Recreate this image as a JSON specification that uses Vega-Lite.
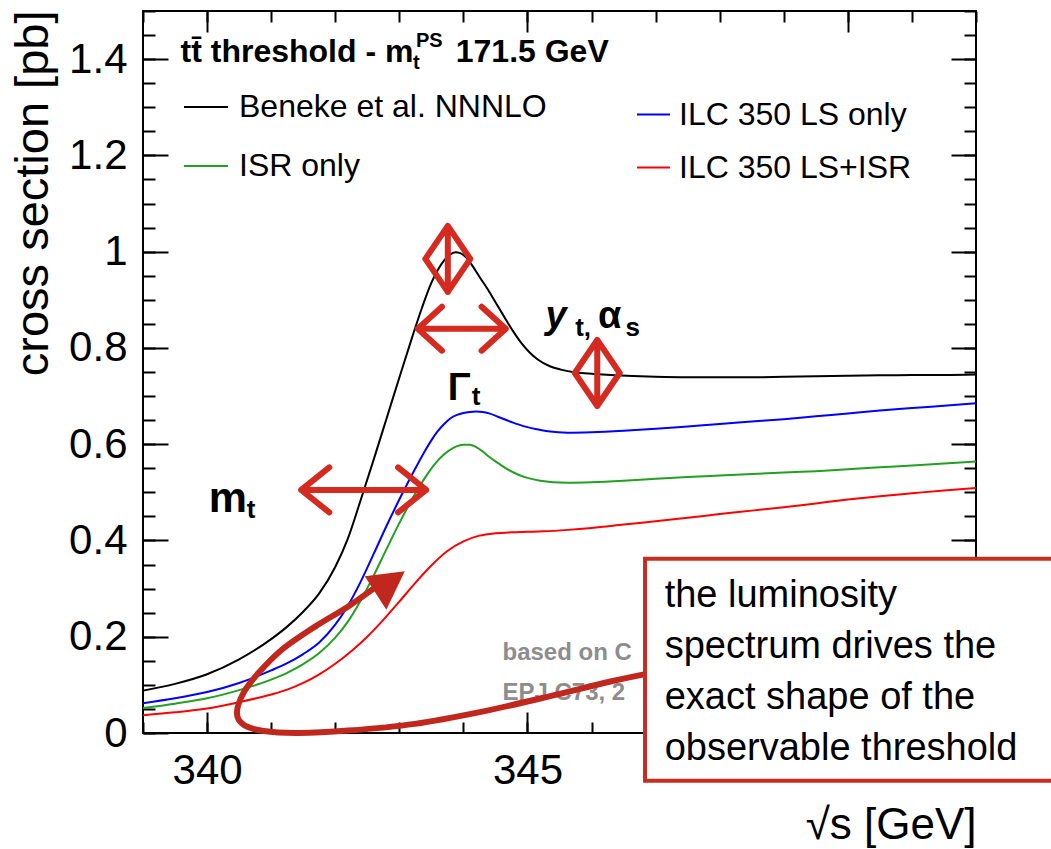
{
  "$schema": "https://vega.github.io/schema/vega-lite/v6.json",
  "width": 833,
  "height": 722,
  "autosize": {"type": "none"},
  "padding": {"left": 143, "top": 11, "right": 75, "bottom": 116},
  "background": "white",
  "config": {
    "font": "Liberation Sans",
    "view": {"stroke": "black", "strokeWidth": 2},
    "axis": {"grid": false, "domain": false, "tickColor": "black", "tickWidth": 2, "labelColor": "black", "titleColor": "black", "labelFlush": false}
  },
  "datasets": {
    "curves": [
      {"series": "Beneke et al. NNNLO", "sqrt_s": 339.0, "sigma": 0.088},
      {"series": "Beneke et al. NNNLO", "sqrt_s": 339.5, "sigma": 0.102},
      {"series": "Beneke et al. NNNLO", "sqrt_s": 340.0, "sigma": 0.122},
      {"series": "Beneke et al. NNNLO", "sqrt_s": 340.5, "sigma": 0.153},
      {"series": "Beneke et al. NNNLO", "sqrt_s": 341.0, "sigma": 0.195},
      {"series": "Beneke et al. NNNLO", "sqrt_s": 341.25, "sigma": 0.221},
      {"series": "Beneke et al. NNNLO", "sqrt_s": 341.5, "sigma": 0.252},
      {"series": "Beneke et al. NNNLO", "sqrt_s": 341.75, "sigma": 0.29},
      {"series": "Beneke et al. NNNLO", "sqrt_s": 342.0, "sigma": 0.345},
      {"series": "Beneke et al. NNNLO", "sqrt_s": 342.2, "sigma": 0.405},
      {"series": "Beneke et al. NNNLO", "sqrt_s": 342.4, "sigma": 0.485},
      {"series": "Beneke et al. NNNLO", "sqrt_s": 342.6, "sigma": 0.568},
      {"series": "Beneke et al. NNNLO", "sqrt_s": 342.8, "sigma": 0.653},
      {"series": "Beneke et al. NNNLO", "sqrt_s": 343.0, "sigma": 0.738},
      {"series": "Beneke et al. NNNLO", "sqrt_s": 343.2, "sigma": 0.822},
      {"series": "Beneke et al. NNNLO", "sqrt_s": 343.35, "sigma": 0.882},
      {"series": "Beneke et al. NNNLO", "sqrt_s": 343.5, "sigma": 0.935},
      {"series": "Beneke et al. NNNLO", "sqrt_s": 343.6, "sigma": 0.962},
      {"series": "Beneke et al. NNNLO", "sqrt_s": 343.7, "sigma": 0.982},
      {"series": "Beneke et al. NNNLO", "sqrt_s": 343.8, "sigma": 0.995},
      {"series": "Beneke et al. NNNLO", "sqrt_s": 343.88, "sigma": 0.999},
      {"series": "Beneke et al. NNNLO", "sqrt_s": 343.95, "sigma": 0.997},
      {"series": "Beneke et al. NNNLO", "sqrt_s": 344.05, "sigma": 0.987},
      {"series": "Beneke et al. NNNLO", "sqrt_s": 344.15, "sigma": 0.969},
      {"series": "Beneke et al. NNNLO", "sqrt_s": 344.25, "sigma": 0.948},
      {"series": "Beneke et al. NNNLO", "sqrt_s": 344.38, "sigma": 0.922},
      {"series": "Beneke et al. NNNLO", "sqrt_s": 344.51, "sigma": 0.893},
      {"series": "Beneke et al. NNNLO", "sqrt_s": 344.64, "sigma": 0.864},
      {"series": "Beneke et al. NNNLO", "sqrt_s": 344.77, "sigma": 0.836},
      {"series": "Beneke et al. NNNLO", "sqrt_s": 344.9, "sigma": 0.811},
      {"series": "Beneke et al. NNNLO", "sqrt_s": 345.03, "sigma": 0.791},
      {"series": "Beneke et al. NNNLO", "sqrt_s": 345.16, "sigma": 0.776},
      {"series": "Beneke et al. NNNLO", "sqrt_s": 345.35, "sigma": 0.762},
      {"series": "Beneke et al. NNNLO", "sqrt_s": 345.52, "sigma": 0.755},
      {"series": "Beneke et al. NNNLO", "sqrt_s": 345.75, "sigma": 0.749},
      {"series": "Beneke et al. NNNLO", "sqrt_s": 346.04, "sigma": 0.746},
      {"series": "Beneke et al. NNNLO", "sqrt_s": 346.55, "sigma": 0.742},
      {"series": "Beneke et al. NNNLO", "sqrt_s": 347.0, "sigma": 0.74},
      {"series": "Beneke et al. NNNLO", "sqrt_s": 347.5, "sigma": 0.739},
      {"series": "Beneke et al. NNNLO", "sqrt_s": 348.0, "sigma": 0.739},
      {"series": "Beneke et al. NNNLO", "sqrt_s": 348.5, "sigma": 0.739},
      {"series": "Beneke et al. NNNLO", "sqrt_s": 349.0, "sigma": 0.74},
      {"series": "Beneke et al. NNNLO", "sqrt_s": 349.5, "sigma": 0.741},
      {"series": "Beneke et al. NNNLO", "sqrt_s": 350.0, "sigma": 0.742},
      {"series": "Beneke et al. NNNLO", "sqrt_s": 350.5, "sigma": 0.743},
      {"series": "Beneke et al. NNNLO", "sqrt_s": 351.0, "sigma": 0.744},
      {"series": "Beneke et al. NNNLO", "sqrt_s": 351.5, "sigma": 0.744},
      {"series": "Beneke et al. NNNLO", "sqrt_s": 352.0, "sigma": 0.745},
      {"series": "ILC 350 LS only", "sqrt_s": 339.0, "sigma": 0.062},
      {"series": "ILC 350 LS only", "sqrt_s": 339.5, "sigma": 0.072},
      {"series": "ILC 350 LS only", "sqrt_s": 340.0, "sigma": 0.085},
      {"series": "ILC 350 LS only", "sqrt_s": 340.5, "sigma": 0.104},
      {"series": "ILC 350 LS only", "sqrt_s": 341.0, "sigma": 0.13},
      {"series": "ILC 350 LS only", "sqrt_s": 341.25, "sigma": 0.145},
      {"series": "ILC 350 LS only", "sqrt_s": 341.5, "sigma": 0.164},
      {"series": "ILC 350 LS only", "sqrt_s": 341.75, "sigma": 0.188},
      {"series": "ILC 350 LS only", "sqrt_s": 342.0, "sigma": 0.225},
      {"series": "ILC 350 LS only", "sqrt_s": 342.2, "sigma": 0.265},
      {"series": "ILC 350 LS only", "sqrt_s": 342.4, "sigma": 0.315},
      {"series": "ILC 350 LS only", "sqrt_s": 342.6, "sigma": 0.372},
      {"series": "ILC 350 LS only", "sqrt_s": 342.8, "sigma": 0.43},
      {"series": "ILC 350 LS only", "sqrt_s": 343.0, "sigma": 0.485},
      {"series": "ILC 350 LS only", "sqrt_s": 343.2, "sigma": 0.537},
      {"series": "ILC 350 LS only", "sqrt_s": 343.4, "sigma": 0.586},
      {"series": "ILC 350 LS only", "sqrt_s": 343.5, "sigma": 0.608},
      {"series": "ILC 350 LS only", "sqrt_s": 343.6, "sigma": 0.627},
      {"series": "ILC 350 LS only", "sqrt_s": 343.7, "sigma": 0.642},
      {"series": "ILC 350 LS only", "sqrt_s": 343.8, "sigma": 0.654},
      {"series": "ILC 350 LS only", "sqrt_s": 343.9, "sigma": 0.661},
      {"series": "ILC 350 LS only", "sqrt_s": 344.0, "sigma": 0.665},
      {"series": "ILC 350 LS only", "sqrt_s": 344.1, "sigma": 0.667},
      {"series": "ILC 350 LS only", "sqrt_s": 344.2, "sigma": 0.668},
      {"series": "ILC 350 LS only", "sqrt_s": 344.3, "sigma": 0.667},
      {"series": "ILC 350 LS only", "sqrt_s": 344.4, "sigma": 0.664},
      {"series": "ILC 350 LS only", "sqrt_s": 344.54, "sigma": 0.657},
      {"series": "ILC 350 LS only", "sqrt_s": 344.75, "sigma": 0.646},
      {"series": "ILC 350 LS only", "sqrt_s": 344.95, "sigma": 0.637},
      {"series": "ILC 350 LS only", "sqrt_s": 345.15, "sigma": 0.631},
      {"series": "ILC 350 LS only", "sqrt_s": 345.32, "sigma": 0.627},
      {"series": "ILC 350 LS only", "sqrt_s": 345.63, "sigma": 0.624},
      {"series": "ILC 350 LS only", "sqrt_s": 346.0, "sigma": 0.625},
      {"series": "ILC 350 LS only", "sqrt_s": 346.5, "sigma": 0.628},
      {"series": "ILC 350 LS only", "sqrt_s": 347.0, "sigma": 0.632},
      {"series": "ILC 350 LS only", "sqrt_s": 347.5, "sigma": 0.637},
      {"series": "ILC 350 LS only", "sqrt_s": 348.0, "sigma": 0.642},
      {"series": "ILC 350 LS only", "sqrt_s": 348.5, "sigma": 0.647},
      {"series": "ILC 350 LS only", "sqrt_s": 349.0, "sigma": 0.652},
      {"series": "ILC 350 LS only", "sqrt_s": 349.5, "sigma": 0.658},
      {"series": "ILC 350 LS only", "sqrt_s": 350.0, "sigma": 0.664},
      {"series": "ILC 350 LS only", "sqrt_s": 350.5, "sigma": 0.67},
      {"series": "ILC 350 LS only", "sqrt_s": 351.0, "sigma": 0.675},
      {"series": "ILC 350 LS only", "sqrt_s": 351.5, "sigma": 0.68},
      {"series": "ILC 350 LS only", "sqrt_s": 352.0, "sigma": 0.685},
      {"series": "ISR only", "sqrt_s": 339.0, "sigma": 0.052},
      {"series": "ISR only", "sqrt_s": 339.5, "sigma": 0.061},
      {"series": "ISR only", "sqrt_s": 340.0, "sigma": 0.072},
      {"series": "ISR only", "sqrt_s": 340.5, "sigma": 0.089},
      {"series": "ISR only", "sqrt_s": 341.0, "sigma": 0.111},
      {"series": "ISR only", "sqrt_s": 341.25, "sigma": 0.125},
      {"series": "ISR only", "sqrt_s": 341.5, "sigma": 0.143},
      {"series": "ISR only", "sqrt_s": 341.75, "sigma": 0.166},
      {"series": "ISR only", "sqrt_s": 342.0, "sigma": 0.198},
      {"series": "ISR only", "sqrt_s": 342.2, "sigma": 0.232},
      {"series": "ISR only", "sqrt_s": 342.4, "sigma": 0.276},
      {"series": "ISR only", "sqrt_s": 342.6, "sigma": 0.327},
      {"series": "ISR only", "sqrt_s": 342.8, "sigma": 0.382},
      {"series": "ISR only", "sqrt_s": 343.0, "sigma": 0.436},
      {"series": "ISR only", "sqrt_s": 343.2, "sigma": 0.486},
      {"series": "ISR only", "sqrt_s": 343.4, "sigma": 0.53},
      {"series": "ISR only", "sqrt_s": 343.55, "sigma": 0.558},
      {"series": "ISR only", "sqrt_s": 343.7, "sigma": 0.579},
      {"series": "ISR only", "sqrt_s": 343.85, "sigma": 0.593},
      {"series": "ISR only", "sqrt_s": 344.0, "sigma": 0.599},
      {"series": "ISR only", "sqrt_s": 344.1, "sigma": 0.599},
      {"series": "ISR only", "sqrt_s": 344.2, "sigma": 0.594},
      {"series": "ISR only", "sqrt_s": 344.3, "sigma": 0.585},
      {"series": "ISR only", "sqrt_s": 344.4, "sigma": 0.574},
      {"series": "ISR only", "sqrt_s": 344.55, "sigma": 0.56},
      {"series": "ISR only", "sqrt_s": 344.7, "sigma": 0.547},
      {"series": "ISR only", "sqrt_s": 344.85, "sigma": 0.537},
      {"series": "ISR only", "sqrt_s": 345.0, "sigma": 0.53},
      {"series": "ISR only", "sqrt_s": 345.2, "sigma": 0.524},
      {"series": "ISR only", "sqrt_s": 345.4, "sigma": 0.521},
      {"series": "ISR only", "sqrt_s": 345.63, "sigma": 0.52},
      {"series": "ISR only", "sqrt_s": 346.0, "sigma": 0.521},
      {"series": "ISR only", "sqrt_s": 346.5, "sigma": 0.524},
      {"series": "ISR only", "sqrt_s": 347.0, "sigma": 0.528},
      {"series": "ISR only", "sqrt_s": 347.5, "sigma": 0.532},
      {"series": "ISR only", "sqrt_s": 348.0, "sigma": 0.535},
      {"series": "ISR only", "sqrt_s": 348.5, "sigma": 0.538},
      {"series": "ISR only", "sqrt_s": 349.0, "sigma": 0.541},
      {"series": "ISR only", "sqrt_s": 349.5, "sigma": 0.544},
      {"series": "ISR only", "sqrt_s": 350.0, "sigma": 0.548},
      {"series": "ISR only", "sqrt_s": 350.5, "sigma": 0.552},
      {"series": "ISR only", "sqrt_s": 351.0, "sigma": 0.556},
      {"series": "ISR only", "sqrt_s": 351.5, "sigma": 0.56},
      {"series": "ISR only", "sqrt_s": 352.0, "sigma": 0.564},
      {"series": "ILC 350 LS+ISR", "sqrt_s": 339.0, "sigma": 0.037},
      {"series": "ILC 350 LS+ISR", "sqrt_s": 339.5, "sigma": 0.043},
      {"series": "ILC 350 LS+ISR", "sqrt_s": 340.0, "sigma": 0.051},
      {"series": "ILC 350 LS+ISR", "sqrt_s": 340.5, "sigma": 0.064},
      {"series": "ILC 350 LS+ISR", "sqrt_s": 341.0, "sigma": 0.08},
      {"series": "ILC 350 LS+ISR", "sqrt_s": 341.25, "sigma": 0.09},
      {"series": "ILC 350 LS+ISR", "sqrt_s": 341.5, "sigma": 0.104},
      {"series": "ILC 350 LS+ISR", "sqrt_s": 341.75, "sigma": 0.122},
      {"series": "ILC 350 LS+ISR", "sqrt_s": 342.0, "sigma": 0.144},
      {"series": "ILC 350 LS+ISR", "sqrt_s": 342.25, "sigma": 0.17},
      {"series": "ILC 350 LS+ISR", "sqrt_s": 342.5, "sigma": 0.2},
      {"series": "ILC 350 LS+ISR", "sqrt_s": 342.75, "sigma": 0.235},
      {"series": "ILC 350 LS+ISR", "sqrt_s": 343.0, "sigma": 0.273},
      {"series": "ILC 350 LS+ISR", "sqrt_s": 343.25, "sigma": 0.312},
      {"series": "ILC 350 LS+ISR", "sqrt_s": 343.5, "sigma": 0.348},
      {"series": "ILC 350 LS+ISR", "sqrt_s": 343.75, "sigma": 0.378},
      {"series": "ILC 350 LS+ISR", "sqrt_s": 344.0, "sigma": 0.398},
      {"series": "ILC 350 LS+ISR", "sqrt_s": 344.25, "sigma": 0.41},
      {"series": "ILC 350 LS+ISR", "sqrt_s": 344.5, "sigma": 0.415},
      {"series": "ILC 350 LS+ISR", "sqrt_s": 344.75, "sigma": 0.417},
      {"series": "ILC 350 LS+ISR", "sqrt_s": 345.0, "sigma": 0.418},
      {"series": "ILC 350 LS+ISR", "sqrt_s": 345.25, "sigma": 0.419},
      {"series": "ILC 350 LS+ISR", "sqrt_s": 345.63, "sigma": 0.422},
      {"series": "ILC 350 LS+ISR", "sqrt_s": 346.0, "sigma": 0.426},
      {"series": "ILC 350 LS+ISR", "sqrt_s": 346.5, "sigma": 0.433},
      {"series": "ILC 350 LS+ISR", "sqrt_s": 347.0, "sigma": 0.44},
      {"series": "ILC 350 LS+ISR", "sqrt_s": 347.5, "sigma": 0.447},
      {"series": "ILC 350 LS+ISR", "sqrt_s": 348.0, "sigma": 0.455},
      {"series": "ILC 350 LS+ISR", "sqrt_s": 348.5, "sigma": 0.462},
      {"series": "ILC 350 LS+ISR", "sqrt_s": 349.0, "sigma": 0.469},
      {"series": "ILC 350 LS+ISR", "sqrt_s": 349.5, "sigma": 0.477},
      {"series": "ILC 350 LS+ISR", "sqrt_s": 350.0, "sigma": 0.485},
      {"series": "ILC 350 LS+ISR", "sqrt_s": 350.5, "sigma": 0.492},
      {"series": "ILC 350 LS+ISR", "sqrt_s": 351.0, "sigma": 0.498},
      {"series": "ILC 350 LS+ISR", "sqrt_s": 351.5, "sigma": 0.504},
      {"series": "ILC 350 LS+ISR", "sqrt_s": 352.0, "sigma": 0.509}
    ],
    "loop": [
      {"i": 0, "sqrt_s": 342.618, "sigma": 0.302},
      {"i": 1, "sqrt_s": 342.203, "sigma": 0.263},
      {"i": 2, "sqrt_s": 341.685, "sigma": 0.221},
      {"i": 3, "sqrt_s": 341.166, "sigma": 0.173},
      {"i": 4, "sqrt_s": 340.804, "sigma": 0.125},
      {"i": 5, "sqrt_s": 340.57, "sigma": 0.084},
      {"i": 6, "sqrt_s": 340.466, "sigma": 0.042},
      {"i": 7, "sqrt_s": 340.57, "sigma": 0.017},
      {"i": 8, "sqrt_s": 340.881, "sigma": 0.004},
      {"i": 9, "sqrt_s": 341.425, "sigma": 0.0},
      {"i": 10, "sqrt_s": 342.203, "sigma": 0.005},
      {"i": 11, "sqrt_s": 343.24, "sigma": 0.019},
      {"i": 12, "sqrt_s": 344.275, "sigma": 0.044},
      {"i": 13, "sqrt_s": 345.31, "sigma": 0.075},
      {"i": 14, "sqrt_s": 346.296, "sigma": 0.107},
      {"i": 15, "sqrt_s": 347.02, "sigma": 0.127}
    ]
  },
  "layer": [
    {
      "data": {"name": "curves"},
      "transform": [{"filter": {"field": "series", "oneOf": ["Beneke et al. NNNLO", "ISR only"]}}],
      "mark": {"type": "line", "strokeWidth": 2, "interpolate": "monotone"},
      "encoding": {
        "x": {"field": "sqrt_s", "type": "quantitative", "scale": {"domain": [339, 352], "nice": false, "zero": false},
          "axis": {"orient": "bottom", "values": [340, 345], "ticks": false, "labelFontSize": 42, "labelPadding": 17,
            "title": "√s [GeV]", "titleFontSize": 44, "titleFontWeight": "normal", "titleAnchor": "end", "titleAlign": "right", "titleBaseline": "alphabetic", "titleX": 833, "titleY": 105}},
        "y": {"field": "sigma", "type": "quantitative", "scale": {"domain": [0, 1.5], "nice": false, "zero": false},
          "axis": {"orient": "left", "values": [0, 0.2, 0.4, 0.6, 0.8, 1, 1.2, 1.4], "format": "~g", "ticks": false, "labelFontSize": 42, "labelPadding": 16,
            "title": "cross section [pb]", "titleFontSize": 47, "titleFontWeight": "normal", "titleAngle": 270, "titleAnchor": "end", "titleAlign": "right", "titleBaseline": "alphabetic", "titleX": -96, "titleY": -1}},
        "color": {"field": "series", "type": "nominal",
          "scale": {"domain": ["Beneke et al. NNNLO", "ISR only"], "range": ["#000000", "#22a022"]},
          "legend": {"orient": "none", "legendX": 40, "legendY": 73, "title": null, "direction": "vertical", "symbolType": "stroke", "symbolSize": 1936, "symbolStrokeWidth": 2, "labelFontSize": 32, "labelOffset": 10, "labelLimit": 600, "rowPadding": 20, "padding": 0, "labelColor": "black"}}
      }
    },
    {
      "data": {"name": "curves"},
      "transform": [{"filter": {"field": "series", "oneOf": ["ILC 350 LS only", "ILC 350 LS+ISR"]}}],
      "mark": {"type": "line", "strokeWidth": 2, "interpolate": "monotone"},
      "encoding": {
        "x": {"field": "sqrt_s", "type": "quantitative", "scale": {"domain": [339, 352], "nice": false, "zero": false},
          "axis": {"orient": "bottom", "values": [340, 345, 350], "labels": false, "tickSize": -21, "title": null}},
        "y": {"field": "sigma", "type": "quantitative", "scale": {"domain": [0, 1.5], "nice": false, "zero": false},
          "axis": {"orient": "left", "values": [0, 0.2, 0.4, 0.6, 0.8, 1, 1.2, 1.4], "labels": false, "tickSize": -25, "title": null}},
        "color": {"field": "series", "type": "nominal",
          "scale": {"domain": ["ILC 350 LS only", "ILC 350 LS+ISR"], "range": ["#0000ff", "#ff0000"]},
          "legend": {"orient": "none", "legendX": 493, "legendY": 86, "title": null, "direction": "vertical", "symbolType": "stroke", "symbolSize": 1089, "symbolStrokeWidth": 2, "labelFontSize": 32, "labelOffset": 8, "labelLimit": 600, "rowPadding": 19, "padding": 0, "labelColor": "black"}}
      }
    },
    {
      "data": {"values": [
        {"label": "based on C", "sqrt_s": 344.61, "sigma": 0.152},
        {"label": "EPJ C73, 2", "sqrt_s": 344.61, "sigma": 0.069}
      ]},
      "mark": {"type": "text", "align": "left", "baseline": "alphabetic", "fontSize": 24, "fontWeight": "bold", "color": "#8d8d8d"},
      "encoding": {
        "x": {"field": "sqrt_s", "type": "quantitative", "scale": {"domain": [339, 352], "nice": false, "zero": false}, "axis": null},
        "y": {"field": "sigma", "type": "quantitative", "scale": {"domain": [0, 1.5], "nice": false, "zero": false}, "axis": null},
        "text": {"field": "label"}
      }
    },
    {
      "data": {"name": "loop"},
      "mark": {"type": "line", "strokeWidth": 6, "color": "#c0281e", "strokeCap": "round", "strokeJoin": "round", "interpolate": "cardinal"},
      "encoding": {
        "x": {"field": "sqrt_s", "type": "quantitative", "scale": {"domain": [339, 352], "nice": false, "zero": false},
          "axis": {"orient": "bottom", "values": [339, 340, 341, 342, 343, 344, 345, 346, 347, 348, 349, 350, 351, 352], "labels": false, "tickSize": -11, "title": null}},
        "y": {"field": "sigma", "type": "quantitative", "scale": {"domain": [0, 1.5], "nice": false, "zero": false},
          "axis": {"orient": "left", "values": [0, 0.05, 0.1, 0.15, 0.2, 0.25, 0.3, 0.35, 0.4, 0.45, 0.5, 0.55, 0.6, 0.65, 0.7, 0.75, 0.8, 0.85, 0.9, 0.95, 1, 1.05, 1.1, 1.15, 1.2, 1.25, 1.3, 1.35, 1.4, 1.45, 1.5], "labels": false, "tickSize": -12, "title": null}},
        "order": {"field": "i", "type": "quantitative"}
      }
    },
    {
      "data": {"values": [{"label": "m_t", "sqrt_s": 342.444, "sigma": 0.505}]},
      "mark": {"type": "point", "shape": "M-1,0L1,0M-0.55,-0.36L-1,0L-0.55,0.36M0.55,-0.36L1,0L0.55,0.36", "size": 15625, "filled": false, "color": "#d42a1f", "strokeWidth": 6, "strokeCap": "round", "strokeJoin": "round", "opacity": 1},
      "encoding": {
        "x": {"field": "sqrt_s", "type": "quantitative", "scale": {"domain": [339, 352], "nice": false, "zero": false},
          "axis": {"orient": "top", "values": [340, 345, 350], "labels": false, "tickSize": -21, "title": null}},
        "y": {"field": "sigma", "type": "quantitative", "scale": {"domain": [0, 1.5], "nice": false, "zero": false},
          "axis": {"orient": "right", "values": [0, 0.2, 0.4, 0.6, 0.8, 1, 1.2, 1.4], "labels": false, "tickSize": -25, "title": null}}
      }
    },
    {
      "data": {"values": [{"label": "ISR effect", "sqrt_s": 342.773, "sigma": 0.2955}]},
      "mark": {"type": "point", "shape": "M-1,-0.72L1,-0.97L0.08,0.95Z", "size": 1600, "filled": true, "color": "#c0281e", "opacity": 1},
      "encoding": {
        "x": {"field": "sqrt_s", "type": "quantitative", "scale": {"domain": [339, 352], "nice": false, "zero": false},
          "axis": {"orient": "top", "values": [339, 340, 341, 342, 343, 344, 345, 346, 347, 348, 349, 350, 351, 352], "labels": false, "tickSize": -11, "title": null}},
        "y": {"field": "sigma", "type": "quantitative", "scale": {"domain": [0, 1.5], "nice": false, "zero": false},
          "axis": {"orient": "right", "values": [0, 0.05, 0.1, 0.15, 0.2, 0.25, 0.3, 0.35, 0.4, 0.45, 0.5, 0.55, 0.6, 0.65, 0.7, 0.75, 0.8, 0.85, 0.9, 0.95, 1, 1.05, 1.1, 1.15, 1.2, 1.25, 1.3, 1.35, 1.4, 1.45, 1.5], "labels": false, "tickSize": -12, "title": null}}
      }
    },
    {
      "data": {"values": [{"label": "Gamma_t", "sqrt_s": 343.975, "sigma": 0.84}]},
      "mark": {"type": "point", "shape": "M-1,0L1,0M-0.45,-0.5L-1,0L-0.45,0.5M0.45,-0.5L1,0L0.45,0.5", "size": 7744, "filled": false, "color": "#d42a1f", "strokeWidth": 6, "strokeCap": "round", "strokeJoin": "round", "opacity": 1},
      "encoding": {
        "x": {"field": "sqrt_s", "type": "quantitative", "scale": {"domain": [339, 352], "nice": false, "zero": false}, "axis": null},
        "y": {"field": "sigma", "type": "quantitative", "scale": {"domain": [0, 1.5], "nice": false, "zero": false}, "axis": null}
      }
    },
    {
      "data": {"values": [
        {"label": "peak height", "sqrt_s": 343.757, "sigma": 0.985},
        {"label": "y_t, alpha_s", "sqrt_s": 346.089, "sigma": 0.748}
      ]},
      "mark": {"type": "point", "shape": "M0,-1L0,1M-0.68,0L0,-1L0.68,0M-0.68,0L0,1L0.68,0", "size": 4356, "filled": false, "color": "#d42a1f", "strokeWidth": 6, "strokeCap": "round", "strokeJoin": "round", "opacity": 1},
      "encoding": {
        "x": {"field": "sqrt_s", "type": "quantitative", "scale": {"domain": [339, 352], "nice": false, "zero": false}, "axis": null},
        "y": {"field": "sigma", "type": "quantitative", "scale": {"domain": [0, 1.5], "nice": false, "zero": false}, "axis": null}
      }
    },
    {
      "data": {"values": [
        {"label": "tt̄ threshold - m", "sqrt_s": 339.586, "sigma": 1.394},
        {"label": "171.5 GeV", "sqrt_s": 343.881, "sigma": 1.394}
      ]},
      "mark": {"type": "text", "align": "left", "baseline": "alphabetic", "fontSize": 32, "fontWeight": "bold", "color": "black"},
      "encoding": {
        "x": {"field": "sqrt_s", "type": "quantitative", "scale": {"domain": [339, 352], "nice": false, "zero": false}, "axis": null},
        "y": {"field": "sigma", "type": "quantitative", "scale": {"domain": [0, 1.5], "nice": false, "zero": false}, "axis": null},
        "text": {"field": "label"}
      }
    },
    {
      "data": {"values": [
        {"label": "t", "sqrt_s": 343.215, "sigma": 1.38},
        {"label": "PS", "sqrt_s": 343.26, "sigma": 1.425}
      ]},
      "mark": {"type": "text", "align": "left", "baseline": "alphabetic", "fontSize": 20, "fontWeight": "bold", "color": "black"},
      "encoding": {
        "x": {"field": "sqrt_s", "type": "quantitative", "scale": {"domain": [339, 352], "nice": false, "zero": false}, "axis": null},
        "y": {"field": "sigma", "type": "quantitative", "scale": {"domain": [0, 1.5], "nice": false, "zero": false}, "axis": null},
        "text": {"field": "label"}
      }
    },
    {
      "data": {"values": [
        {"label": "m", "sqrt_s": 340.026, "sigma": 0.46}
      ]},
      "mark": {"type": "text", "align": "left", "baseline": "alphabetic", "fontSize": 43, "fontWeight": "bold", "color": "black"},
      "encoding": {
        "x": {"field": "sqrt_s", "type": "quantitative", "scale": {"domain": [339, 352], "nice": false, "zero": false}, "axis": null},
        "y": {"field": "sigma", "type": "quantitative", "scale": {"domain": [0, 1.5], "nice": false, "zero": false}, "axis": null},
        "text": {"field": "label"}
      }
    },
    {
      "data": {"values": [
        {"label": "Γ", "sqrt_s": 343.757, "sigma": 0.692},
        {"label": "α", "sqrt_s": 346.1, "sigma": 0.842}
      ]},
      "mark": {"type": "text", "align": "left", "baseline": "alphabetic", "fontSize": 38, "fontWeight": "bold", "color": "black"},
      "encoding": {
        "x": {"field": "sqrt_s", "type": "quantitative", "scale": {"domain": [339, 352], "nice": false, "zero": false}, "axis": null},
        "y": {"field": "sigma", "type": "quantitative", "scale": {"domain": [0, 1.5], "nice": false, "zero": false}, "axis": null},
        "text": {"field": "label"}
      }
    },
    {
      "data": {"values": [
        {"label": "y", "sqrt_s": 345.28, "sigma": 0.842}
      ]},
      "mark": {"type": "text", "align": "left", "baseline": "alphabetic", "fontSize": 38, "fontWeight": "bold", "fontStyle": "italic", "color": "black"},
      "encoding": {
        "x": {"field": "sqrt_s", "type": "quantitative", "scale": {"domain": [339, 352], "nice": false, "zero": false}, "axis": null},
        "y": {"field": "sigma", "type": "quantitative", "scale": {"domain": [0, 1.5], "nice": false, "zero": false}, "axis": null},
        "text": {"field": "label"}
      }
    },
    {
      "data": {"values": [
        {"label": "t", "sqrt_s": 340.62, "sigma": 0.447},
        {"label": "t", "sqrt_s": 344.13, "sigma": 0.682},
        {"label": "t,", "sqrt_s": 345.745, "sigma": 0.825},
        {"label": "s", "sqrt_s": 346.53, "sigma": 0.825}
      ]},
      "mark": {"type": "text", "align": "left", "baseline": "alphabetic", "fontSize": 26, "fontWeight": "bold", "color": "black"},
      "encoding": {
        "x": {"field": "sqrt_s", "type": "quantitative", "scale": {"domain": [339, 352], "nice": false, "zero": false}, "axis": null},
        "y": {"field": "sigma", "type": "quantitative", "scale": {"domain": [0, 1.5], "nice": false, "zero": false}, "axis": null},
        "text": {"field": "label"}
      }
    },
    {
      "data": {"values": [{"label": "box", "x_from": 346.835, "x_to": 354.0, "y_from": -0.099, "y_to": 0.362}]},
      "mark": {"type": "rect", "fill": "white", "stroke": "#c62d22", "strokeWidth": 4},
      "encoding": {
        "x": {"field": "x_from", "type": "quantitative", "scale": {"domain": [339, 352], "nice": false, "zero": false}, "axis": null},
        "x2": {"field": "x_to"},
        "y": {"field": "y_from", "type": "quantitative", "scale": {"domain": [0, 1.5], "nice": false, "zero": false}, "axis": null},
        "y2": {"field": "y_to"}
      }
    },
    {
      "data": {"values": [{"label": "the luminosity\nspectrum drives the\nexact shape of the\nobservable threshold", "sqrt_s": 347.141, "sigma": 0.2623}]},
      "mark": {"type": "text", "align": "left", "baseline": "alphabetic", "fontSize": 38, "lineBreak": "\n", "lineHeight": 51, "color": "black"},
      "encoding": {
        "x": {"field": "sqrt_s", "type": "quantitative", "scale": {"domain": [339, 352], "nice": false, "zero": false}, "axis": null},
        "y": {"field": "sigma", "type": "quantitative", "scale": {"domain": [0, 1.5], "nice": false, "zero": false}, "axis": null},
        "text": {"field": "label"}
      }
    }
  ],
  "resolve": {"scale": {"x": "independent", "y": "independent", "color": "independent"}}
}
